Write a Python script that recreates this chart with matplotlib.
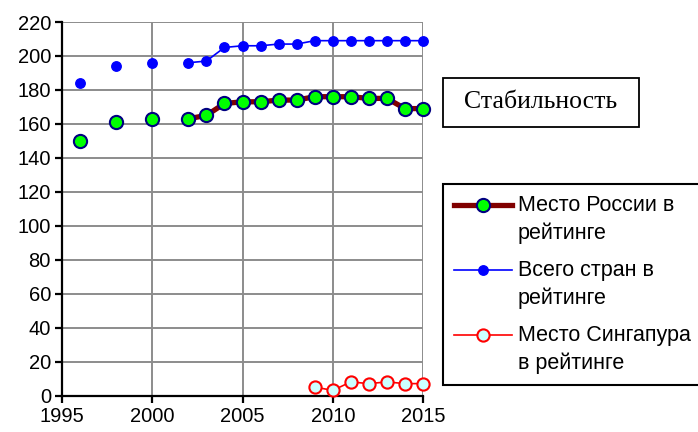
import numpy as np
import matplotlib
matplotlib.use("Agg")
import matplotlib.pyplot as plt
from matplotlib.patches import Rectangle
from matplotlib.legend_handler import HandlerLine2D

plt.rcParams['font.family'] = ['Liberation Sans', 'DejaVu Sans']

years = list(range(1996, 2016))
nan = np.nan
# Place of Russia in the ranking
russia = [150, nan, 161, nan, 163, nan, 163, 165, 172, 173, 173, 174, 174,
          176, 176, 176, 175, 175, 169, 169]
# Total number of countries in the ranking
total = [184, nan, 194, nan, 196, nan, 196, 197, 205, 206, 206, 207, 207,
         209, 209, 209, 209, 209, 209, 209]
# Place of Singapore in the ranking
singapore = [nan] * 13 + [5, 3, 8, 7, 8, 7, 7]

x_ticks = [1995, 2000, 2005, 2010, 2015]
y_ticks = list(range(0, 221, 20))

label_russia = "Место России в\nрейтинге"
label_total = "Всего стран в\nрейтинге"
label_sing = "Место Сингапура\nв рейтинге"
title_text = "Стабильность"

LEG_FS = 15.5
LEG_LS = 1.4


class FirstLineHandler(HandlerLine2D):
    """Places the legend sample level with the first line of a two-line label."""

    def __init__(self, shift, **kw):
        super().__init__(**kw)
        self.shift = shift

    def create_artists(self, legend, orig_handle, xdescent, ydescent,
                       width, height, fontsize, trans):
        arts = super().create_artists(legend, orig_handle, xdescent, ydescent,
                                      width, height, fontsize, trans)
        for a in arts:
            a.set_ydata(np.asarray(a.get_ydata()) + self.shift)
        return arts


W, H = 698, 432
fig = plt.figure(figsize=(W / 100, H / 100), dpi=100)
ax = fig.add_axes([62 / W, 1 - 395.5 / H, (423 - 62) / W, (395.5 - 22) / H])

l1, = ax.plot(years, russia, color='#800000', lw=3.8, marker='o', ms=9.5,
              mfc='#00FF00', mec='#000080', mew=1.5, clip_on=False, zorder=4,
              label=label_russia)
l2, = ax.plot(years, total, color='#0000FF', lw=1.2, marker='o', ms=6.8,
              mfc='#0000FF', mec='#0000FF', clip_on=False, zorder=4,
              label=label_total)
l3, = ax.plot(years, singapore, color='#FF0000', lw=1.2, marker='o', ms=8.8,
              mfc='#CCFFFF', mec='#FF0000', mew=1.5, clip_on=False, zorder=5,
              label=label_sing)

ax.set_xlim(1995, 2015)
ax.set_ylim(0, 220)
ax.set_xticks(x_ticks)
ax.set_yticks(y_ticks)
ax.grid(True, color='#8c8c8c', lw=1.4)
ax.set_axisbelow(True)
for s in ('top', 'right'):
    ax.spines[s].set_visible(False)
for s in ('left', 'bottom'):
    ax.spines[s].set_linewidth(1.6)
    ax.spines[s].set_color('black')
    ax.spines[s].set_zorder(3)
ax.tick_params(direction='out', length=5, width=1.6, labelsize=14.5,
               pad=3, colors='black')

# Title box
x0, x1, y0, y1 = 443, 639, 78, 127
fig.patches.append(Rectangle((x0 / W, 1 - y1 / H), (x1 - x0) / W, (y1 - y0) / H,
                             transform=fig.transFigure, fill=False,
                             edgecolor='black', lw=1.3))
fig.text((x0 + x1) / 2 / W, 1 - (y0 + y1) / 2 / H, title_text,
         family='Liberation Serif', fontsize=18.5, ha='center', va='center')

shift = LEG_FS * LEG_LS / 2
hmap = {h: FirstLineHandler(shift) for h in (l1, l2, l3)}
leg = fig.legend(handles=[l1, l2, l3], handler_map=hmap, loc='upper left',
                 bbox_to_anchor=(443 / W, 1 - 184 / H, 270 / W, 0),
                 mode='expand', fontsize=LEG_FS, frameon=True, fancybox=False,
                 edgecolor='black', framealpha=1, handlelength=2.7,
                 handletextpad=0.28, labelspacing=0.75, borderpad=0.5,
                 borderaxespad=0)
leg.get_frame().set_linewidth(1.5)
for t in leg.get_texts():
    t.set_linespacing(LEG_LS)

fig.savefig('out.png', dpi=100)
